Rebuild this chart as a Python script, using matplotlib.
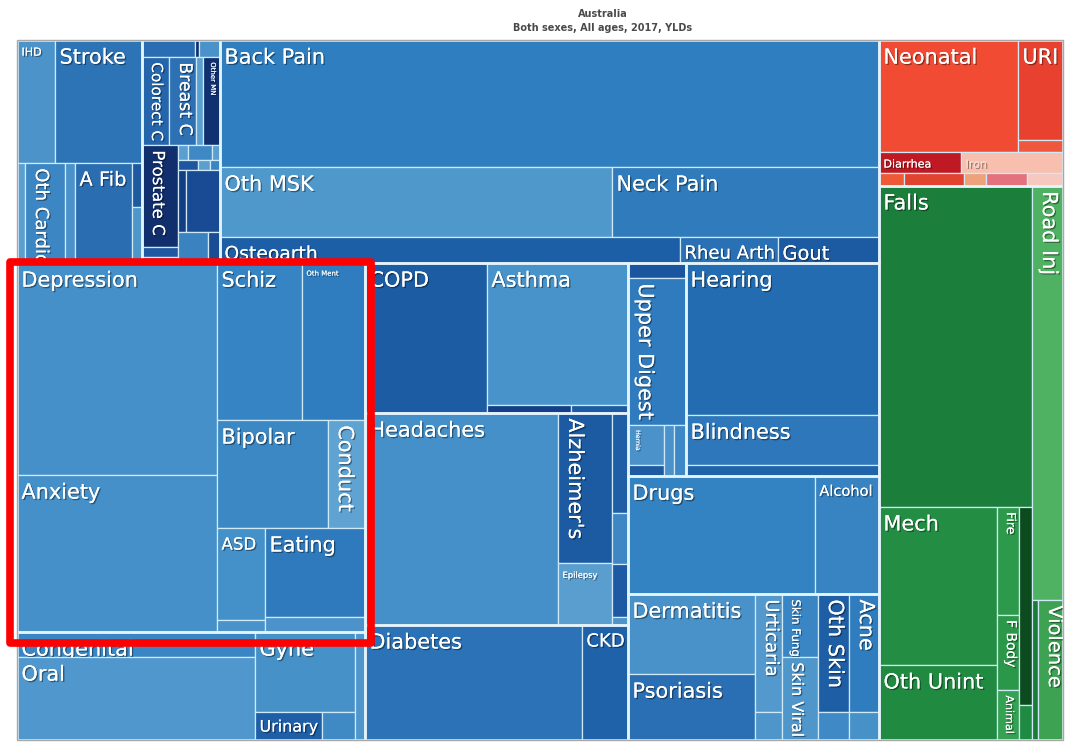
import matplotlib
matplotlib.use("Agg")
import matplotlib.pyplot as plt
from matplotlib.patches import Rectangle
import matplotlib.patheffects as pe

# ---------------- data: YLDs (thousands), Australia, both sexes, all ages, 2017 (estimated) ----------
cardio_labels = ['IHD', 'Stroke', 'Endocar', 'Oth Cardio', 'HTN HD', 'A Fib', 'PAD', 'CMP']
cardio_values = [23.4, 53.5, 4.0, 20.0, 5.0, 28.5, 2.2, 2.8]

neo_labels = ['Lung C', 'Mesothel', 'Melanoma', 'Colorect C', 'Breast C', 'Uterine C', 'Other MN',
              'Prostate C', 'Testic C', 'Thyroid C', 'Ovarian C', 'Kidney C', 'Pancreas C',
              'Leukemia', 'Bladder C', 'Stomach C', 'Lip Oral C', 'Oth Neo', 'NMSC', 'NHL']
neo_values = [4.5, 0.34, 1.79, 11.88, 11.88, 3.08, 7.48, 18.36, 1.8, 1.08, 0.75, 1.8, 0.6,
              1.0, 0.6, 0.5, 2.48, 10.54, 4.65, 1.86]

msk_labels = ['Back Pain', 'Oth MSK', 'Neck Pain', 'Osteoarth', 'Rheu Arth', 'Gout']
msk_values = [418.5, 137.2, 93.45, 59.8, 12.74, 13.13]

mental_labels = ['Depression', 'Anxiety', 'Schiz', 'Oth Ment', 'Bipolar', 'Conduct',
                 'ASD', 'ADHD', 'Eating', 'Int Dis']
mental_values = [212.0, 157.0, 66.7, 49.5, 59.9, 20.0, 22.1, 2.9, 44.5, 7.5]

othncd_labels = ['Congenital', 'Oral', 'Gyne', 'Urinary', 'Endocrine', 'Hemog']
othncd_values = [29.8, 98.8, 40.0, 9.4, 4.6, 5.4]

resp_labels = ['COPD', 'Asthma', 'ILD', 'Pneumocon']
resp_values = [91.5, 100.1, 3.4, 2.3]

neuro_labels = ['Headaches', "Alzheimer's", 'Epilepsy', 'MS', 'Parkinson', 'Oth Neuro', 'MND']
neuro_values = [204.6, 40.5, 16.7, 8.0, 4.0, 4.3, 0.6]

diab_labels = ['Diabetes', 'CKD']
diab_values = [124.8, 26.5]

digest_labels = ['Cirrhosis', 'Upper Digest', 'Hernia', 'Gallblad', 'IBD', 'Oth Digest']
digest_values = [4.4, 42.6, 7.2, 2.0, 2.6, 3.1]

sense_labels = ['Hearing', 'Blindness', 'Oth Sense']
sense_values = [146.7, 48.3, 10.6]

subst_labels = ['Drugs', 'Alcohol']
subst_values = [110.3, 37.8]

skin_labels = ['Dermatitis', 'Psoriasis', 'Urticaria', 'Decubitus', 'Skin Fung', 'Skin Viral',
               'Oth Skin', 'Scabies', 'Acne', 'Alopecia']
skin_values = [50.8, 41.9, 15.9, 3.8, 11.3, 14.9, 18.3, 4.3, 17.7, 4.2]

comm_labels = ['Neonatal', 'URI', 'Otitis', 'Diarrhea', 'Iron', 'LRI', 'Oth Nutr', 'STI',
               'Intest Inf', 'HIV']
comm_values = [77.8, 22.5, 2.7, 8.6, 10.7, 1.6, 3.9, 1.4, 2.7, 2.3]

inj_labels = ['Falls', 'Mech', 'Oth Unint', 'Fire', 'F Body', 'Animal', 'Drowning', 'Exposure',
              'Road Inj', 'Self Harm', 'Violence']
inj_values = [245.6, 93.2, 44.3, 11.9, 8.3, 5.5, 12.9, 2.3, 64.2, 4.2, 17.5]

# ---------------- styles ----------------
cardio_colors = ['#4b93c9', '#2d74b7', '#5a9fd0', '#3b86c3', '#4a92c9', '#2a6db1', '#1f5aa0', '#4f96cb']
neo_colors = ['#2b6db2', '#0e2d6b', '#4a92c9', '#2565ab', '#2d70b4', '#5a9fd0', '#10306f',
              '#112f6c', '#1f58a0', '#4a92c9', '#5a9fd0', '#3e89c5', '#5a9fd0', '#1e56a0',
              '#5a9fd0', '#3a84c2', '#143e82', '#184b93', '#3b82c1', '#1a4c94']
msk_colors = ['#2f7fc0', '#4f98cb', '#2f7bbc', '#1d5fa6', '#2a70b4', '#1c5aa2']
mental_colors = ['#4690c9', '#4690c9', '#3684c3', '#2f7dbf', '#3c88c5', '#5ea3d2',
                 '#4490c9', '#4a93ca', '#2f7abc', '#4b93ca']
othncd_colors = ['#3a85c3', '#4f97cc', '#4791c9', '#1f5fa7', '#3f89c5', '#4e96cb']
resp_colors = ['#1c5ca3', '#4893ca', '#143f86', '#1d5aa1']
neuro_colors = ['#4690c9', '#1c5ba2', '#5a9ecf', '#1f5ea6', '#3e87c4', '#1e5aa3', '#4e94ca']
diab_colors = ['#2b72b6', '#2062a9']
digest_colors = ['#1a56a0', '#2f7bbd', '#4a92c9', '#1d5aa2', '#4a92c9', '#3d88c5']
sense_colors = ['#236cb1', '#2d77ba', '#1f63aa']
subst_colors = ['#3382c2', '#3884c3']
skin_colors = ['#4891c9', '#2a6fb3', '#5399cd', '#4d95cb', '#3a86c4', '#4f96cb',
               '#1e5ea5', '#3f8ac6', '#2f7dbf', '#4791c9']
comm_colors = ['#f24b34', '#e8412f', '#f0583e', '#bf1a24', '#f8bfae', '#ef5a36', '#e2432f',
               '#eea27a', '#e5717c', '#f6c8bf']
inj_colors = ['#1b7e3b', '#238d43', '#208a41', '#2d9a4b', '#2b9749', '#35a153', '#0b4b1d',
              '#1f8a41', '#4fb262', '#1c7a37', '#3da352']

# arrangement of cells inside each group ('h' = side by side, 'v' = stacked)
cardio_layout = ('v', [('h', [0, 1]), ('h', [2, 3, 4, 5, ('v', [6, 7])])])
neo_layout = ('v', [('h', [0, 1, 2]), ('h', [3, 4, 5, 6]),
                    ('h', [('v', [7, 8, 9]),
                           ('v', [('h', [10, 11, 12]), ('h', [13, 14, 15]),
                                  ('h', [16, 17]), ('h', [18, 19])])])])
msk_layout = ('v', [0, ('h', [1, 2]), ('h', [3, 4, 5])])
mental_layout = ('h', [('v', [0, 1]),
                       ('v', [('h', [2, 3]), ('h', [4, 5]), ('h', [('v', [6, 7]), ('v', [8, 9])])])])
othncd_layout = ('h', [('v', [0, 1]), ('h', [('v', [2, ('h', [3, 4])]), 5])])
resp_layout = ('h', [0, ('v', [1, ('h', [2, 3])])])
neuro_layout = ('h', [0, ('v', [1, 2]), ('v', [3, 4, 5, 6])])
diab_layout = ('h', [0, 1])
digest_layout = ('v', [0, 1, ('h', [('v', [2, 3]), 4, 5])])
sense_layout = ('v', [0, 1, 2])
subst_layout = ('h', [0, 1])
skin_layout = ('h', [('v', [0, 1]), ('v', [2, 3]), ('v', [4, 5]), ('v', [6, 7]), ('v', [8, 9])])
comm_layout = ('v', [('h', [0, ('v', [1, 2])]), ('h', [3, 4]), ('h', [5, 6, 7, 8, 9])])
inj_layout = ('h', [('v', [0, ('h', [('v', [1, 2]), ('v', [3, 4, 5]), ('v', [6, 7])])]),
                    ('v', [8, ('h', [9, 10])])])

root_layout = ('h', [('v', [('h', ['cardio', 'neo', 'msk']),
                            ('h', [('v', ['mental', 'othncd']),
                                   ('v', ['resp', 'neuro', 'diab']),
                                   ('v', [('h', ['digest', 'sense']), 'subst', 'skin'])])]),
                     ('v', ['comm', 'inj'])])

groups = {
    'cardio': (cardio_labels, cardio_values, cardio_colors, cardio_layout),
    'neo': (neo_labels, neo_values, neo_colors, neo_layout),
    'msk': (msk_labels, msk_values, msk_colors, msk_layout),
    'mental': (mental_labels, mental_values, mental_colors, mental_layout),
    'othncd': (othncd_labels, othncd_values, othncd_colors, othncd_layout),
    'resp': (resp_labels, resp_values, resp_colors, resp_layout),
    'neuro': (neuro_labels, neuro_values, neuro_colors, neuro_layout),
    'diab': (diab_labels, diab_values, diab_colors, diab_layout),
    'digest': (digest_labels, digest_values, digest_colors, digest_layout),
    'sense': (sense_labels, sense_values, sense_colors, sense_layout),
    'subst': (subst_labels, subst_values, subst_colors, subst_layout),
    'skin': (skin_labels, skin_values, skin_colors, skin_layout),
    'comm': (comm_labels, comm_values, comm_colors, comm_layout),
    'inj': (inj_labels, inj_values, inj_colors, inj_layout),
}

# label font size (pt) and vertical orientation for the labels visible in the chart
label_style = {
    'IHD': (8, False), 'Stroke': (15, False), 'Oth Cardio': (13, True), 'A Fib': (14, False),
    'Colorect C': (11, True), 'Breast C': (12.5, True), 'Other MN': (5, True), 'Prostate C': (12, True),
    'Back Pain': (15, False), 'Oth MSK': (15, False), 'Neck Pain': (15, False),
    'Osteoarth': (13.5, False), 'Rheu Arth': (13, False), 'Gout': (14, False),
    'Depression': (15, False), 'Anxiety': (15, False), 'Schiz': (15, False), 'Oth Ment': (5, False),
    'Bipolar': (15, False), 'Conduct': (15, True), 'ASD': (12, False), 'Eating': (15, False),
    'Congenital': (15, False), 'Oral': (15, False), 'Gyne': (15, False), 'Urinary': (11.5, False),
    'COPD': (15, False), 'Asthma': (15, False), 'Headaches': (15, False), "Alzheimer's": (15, True),
    'Epilepsy': (6, False), 'Diabetes': (15, False), 'CKD': (13, False),
    'Upper Digest': (15, True), 'Hernia': (4.5, True), 'Hearing': (15, False), 'Blindness': (15, False),
    'Drugs': (15, False), 'Alcohol': (10.5, False),
    'Dermatitis': (15, False), 'Psoriasis': (15, False), 'Urticaria': (13, True),
    'Skin Fung': (8.5, True), 'Skin Viral': (11.5, True), 'Oth Skin': (15, True), 'Acne': (15, True),
    'Neonatal': (15, False), 'URI': (15, False), 'Diarrhea': (8, False), 'Iron': (8, False),
    'Falls': (15, False), 'Mech': (15, False), 'Oth Unint': (15, False), 'Fire': (9, True),
    'F Body': (10, True), 'Animal': (8, True), 'Road Inj': (15, True), 'Violence': (14, True),
}


# ---------------- treemap layout ----------------
def node_value(node, g=None):
    if isinstance(node, str):
        return node_value(groups[node][3], node)
    if isinstance(node, int):
        return groups[g][1][node]
    return sum(node_value(k, g) for k in node[1])


leaves = []
group_rects = {}


def place(node, x, y, w, h, g=None):
    if isinstance(node, str):
        group_rects[node] = (x, y, w, h)
        place(groups[node][3], x, y, w, h, node)
        return
    if isinstance(node, int):
        leaves.append((g, node, x, y, w, h))
        return
    d, kids = node
    vals = [node_value(k, g) for k in kids]
    tot = sum(vals)
    pos = x if d == 'h' else y
    for k, v in zip(kids, vals):
        if d == 'h':
            ww = w * v / tot
            place(k, pos, y, ww, h, g)
            pos += ww
        else:
            hh = h * v / tot
            place(k, x, pos, w, hh, g)
            pos += hh


place(root_layout, 0.0, 0.0, 1.0, 1.0)

# ---------------- drawing ----------------
W, H = 1065, 743
fig = plt.figure(figsize=(W / 100, H / 100), dpi=100)
fig.patch.set_facecolor('white')
ax = fig.add_axes([17 / W, 3 / H, 1046 / W, 700 / H])
ax.set_xlim(0, 1)
ax.set_ylim(1, 0)
ax.axis('off')

shadow = [pe.withSimplePatchShadow(offset=(1, -1), shadow_rgbFace='black', alpha=0.4), pe.Normal()]

for g, i, x, y, w, h in leaves:
    labels, values, colors, _ = groups[g]
    r = Rectangle((x, y), w, h, facecolor=colors[i], edgecolor='#cfe9f7', linewidth=0.9, zorder=2)
    ax.add_patch(r)
    lab = labels[i]
    if lab in label_style:
        fs, vert = label_style[lab]
        tcol = '#f6dccf' if lab == 'Iron' else 'white'
        off = (5.0, -3.8) if vert else (3.2, -5.5)
        t = ax.annotate(lab, xy=(x, y), xycoords='data', xytext=off, textcoords='offset points',
                        ha='left', va='top', rotation=-90 if vert else 0, fontsize=fs, color=tcol,
                        zorder=5, path_effects=shadow, annotation_clip=False)
        t.set_clip_path(r)

for name, (x, y, w, h) in group_rects.items():
    ax.add_patch(Rectangle((x, y), w, h, facecolor='none', edgecolor='#e4f4fc', linewidth=1.8, zorder=3))

# outer frame
ax.add_patch(Rectangle((0, 0), 1, 1, facecolor='none', edgecolor='#a8a8a8', linewidth=1.0, zorder=4,
                       clip_on=False))

# red highlight around the mental disorders block
mx, my, mw, mh = group_rects['mental']
px, py = 1 / 1046, 1 / 700
ax.add_patch(Rectangle((mx - 7 * px, my - 1 * py), mw + 13 * px, mh + 12 * py, facecolor='none',
                       edgecolor='#ff0000', linewidth=5.5, joinstyle='round', zorder=10, clip_on=False))

fig.text(603 / W, 1 - 14 / H, 'Australia', ha='center', va='center', fontsize=7, fontweight='bold',
         color='#4a4a4a')
fig.text(603 / W, 1 - 28 / H, 'Both sexes, All ages, 2017, YLDs', ha='center', va='center', fontsize=7,
         fontweight='bold', color='#4a4a4a')

fig.savefig('out.png', dpi=100, facecolor='white')
